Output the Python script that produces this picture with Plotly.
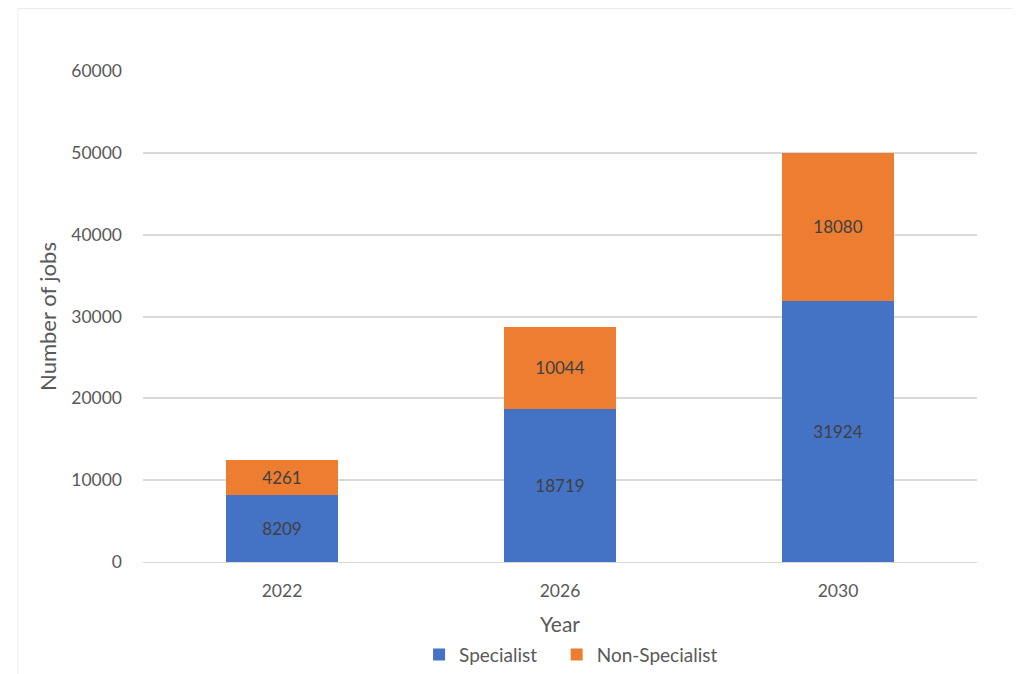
import plotly.graph_objects as go

years = ["2022", "2026", "2030"]
specialist = [8209, 18719, 31924]
non_specialist = [4261, 10044, 18080]
y_ticks = [0, 10000, 20000, 30000, 40000, 50000, 60000]

fig = go.Figure()

fig.add_trace(go.Bar(
    x=years, y=specialist, name="Specialist",
    marker=dict(color="#4472C4", line=dict(width=0)),
    text=specialist, textposition="inside", insidetextanchor="middle",
    textfont=dict(color="#404040", size=17),
    legend="legend",
))
fig.add_trace(go.Bar(
    x=years, y=non_specialist, name="Non-Specialist",
    marker=dict(color="#ED7D31", line=dict(width=0)),
    text=non_specialist, textposition="inside", insidetextanchor="middle",
    textfont=dict(color="#404040", size=17),
    legend="legend2",
))

# faint frame lines along the top and left edge, like the original screenshot
frame = dict(type="line", xref="paper", yref="paper",
             line=dict(color="#ececec", width=1), layer="below")

fig.update_layout(
    barmode="stack",
    bargap=0.6,
    width=1020, height=674,
    showlegend=True,
    paper_bgcolor="white", plot_bgcolor="white",
    font=dict(family="Lato, Open Sans, sans-serif", color="#595959", size=17),
    margin=dict(l=135, r=51, t=63, b=120, autoexpand=False),
    xaxis=dict(
        title=dict(text="Year", font=dict(size=21), standoff=17),
        showgrid=False, showline=True, linecolor="#d9d9d9", linewidth=1,
        tickfont=dict(size=17.5), ticks="", ticklabelstandoff=13,
        automargin=False,
    ),
    yaxis=dict(
        title=dict(text="Number of jobs", font=dict(size=22), standoff=8),
        range=[0, 60000], tickvals=y_ticks, tickformat="d", showgrid=True,
        gridcolor="#d9d9d9", gridwidth=1.5, zeroline=False,
        tickfont=dict(size=17.5), ticklabelstandoff=20, automargin=False,
    ),
    legend=dict(
        orientation="h", x=0.331, xanchor="left", y=-0.15, yanchor="top",
        font=dict(size=19, color="#595959"), itemwidth=30,
        bgcolor="rgba(0,0,0,0)", visible=True,
    ),
    legend2=dict(
        orientation="h", x=0.496, xanchor="left", y=-0.15, yanchor="top",
        font=dict(size=19, color="#595959"), itemwidth=30,
        bgcolor="rgba(0,0,0,0)", visible=True,
    ),
    shapes=[
        dict(frame, x0=-0.1499, x1=-0.1499, y0=-0.244, y1=1.1273),
        dict(frame, x0=-0.1499, x1=1.061, y0=1.1273, y1=1.1273),
    ],
)

fig.write_html("out.html")
